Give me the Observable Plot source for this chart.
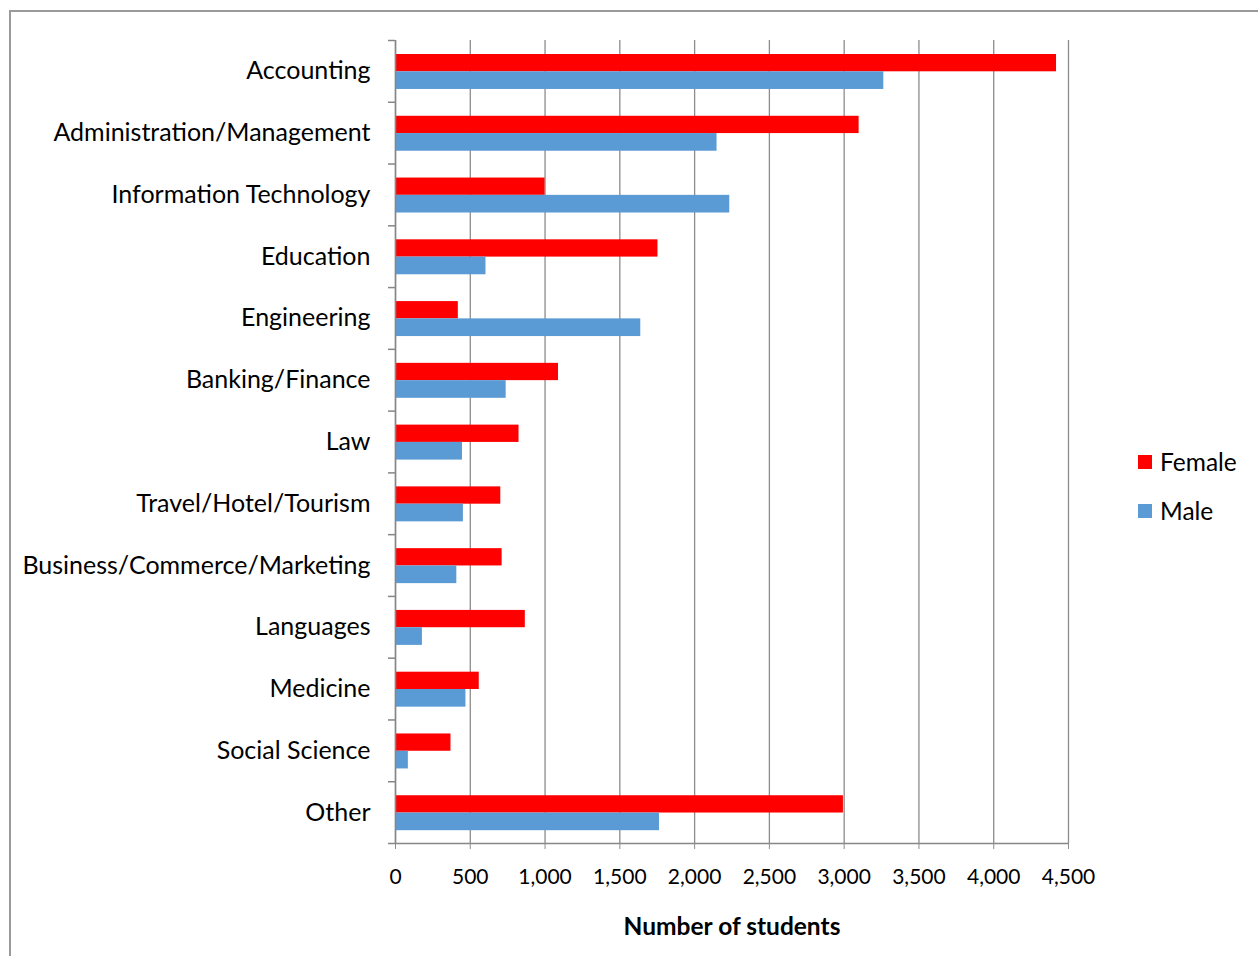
<!DOCTYPE html>
<html><head><meta charset="utf-8">
<script src="https://cdn.jsdelivr.net/npm/d3@7"></script>
<script src="https://cdn.jsdelivr.net/npm/@observablehq/plot@0.6"></script>
<style>
body{margin:0;background:#fff;font-family:Lato,sans-serif;}
#wrap{position:relative;width:1258px;height:956px;overflow:hidden;}
#frame{position:absolute;left:9px;top:10px;width:1400px;height:1100px;border:2px solid #9a9a9a;box-sizing:border-box;pointer-events:none}
#chart{position:absolute;left:0;top:0}
#legend{position:absolute;left:1138px;top:437px;font-size:24.5px;color:#000;font-family:Lato,sans-serif}
.item{display:flex;align-items:center;height:49px}
.sw{width:14px;height:14px;margin-right:8px}
</style></head>
<body><div id="wrap"><div id="chart"></div><div id="frame"></div><div id="legend"></div></div>
<script>
const categories = ["Accounting","Administration/Management","Information Technology","Education","Engineering","Banking/Finance","Law","Travel/Hotel/Tourism","Business/Commerce/Marketing","Languages","Medicine","Social Science","Other"];
const female = [4420,3100,1000,1755,420,1090,826,704,713,868,560,371,2995];
const male = [3265,2150,2235,605,1640,740,448,454,410,180,471,86,1765];
const series = ["Female","Male"];
const colors = ["#ff0000","#5b9bd5"];
const xTicks = [0,500,1000,1500,2000,2500,3000,3500,4000,4500];
const xLabel = "Number of students";

const W = 1258, H = 956, mT = 40, mB = 113, mL = 395, mR = 190;
const step = (H - mT - mB) / categories.length;

const femaleRows = categories.map((c,i)=>({category:c, sex:"Female", value:female[i]}));
const maleRows = categories.map((c,i)=>({category:c, sex:"Male", value:male[i]}));

const chart = Plot.plot({
  width: W, height: H,
  marginTop: mT, marginBottom: mB, marginLeft: mL, marginRight: mR,
  style: {fontFamily: "Lato, sans-serif", background: "transparent"},
  x: {domain: [0, 4500]},
  y: {domain: categories, padding: 0, round: false},
  marks: [
    Plot.ruleX(xTicks, {stroke: "#8c8c8c", strokeWidth: 1.3}),
    Plot.barX(femaleRows, {x: "value", y: "category", fill: colors[0], insetTop: 14, insetBottom: step - 31.3}),
    Plot.barX(maleRows, {x: "value", y: "category", fill: colors[1], insetTop: 31.3, insetBottom: 12.8}),
    Plot.ruleX([0], {stroke: "#868686", strokeWidth: 1.5}),
    Plot.ruleY([categories[categories.length-1]], {dy: step/2, stroke: "#868686", strokeWidth: 1.5}),
    Plot.ruleY(categories, {dy: -step/2, x1: 0, x2: 0, insetLeft: -7, stroke: "#868686", strokeWidth: 1.5}),
    Plot.ruleY([categories[categories.length-1]], {dy: step/2, x1: 0, x2: 0, insetLeft: -7, stroke: "#868686", strokeWidth: 1.5}),
    Plot.axisX(xTicks, {tickSize: 6, tickPadding: 20, fontSize: 21, tickFormat: d3.format(","), stroke: "#8c8c8c", label: null}),
    Plot.axisY({tickSize: 0, tickPadding: 25, fontSize: 25, label: null}),
    Plot.text([xLabel], {frameAnchor: "bottom", lineAnchor: "middle", dy: 84, fontSize: 24.5, fontWeight: "bold", fill: "#000"})
  ]
});
document.getElementById("chart").appendChild(chart);

const legend = document.getElementById("legend");
series.forEach((s,i)=>{
  const it = document.createElement("div"); it.className = "item";
  const sw = document.createElement("span"); sw.className = "sw"; sw.style.background = colors[i];
  const t = document.createElement("span"); t.textContent = s;
  it.appendChild(sw); it.appendChild(t); legend.appendChild(it);
});
</script>
</body></html>
